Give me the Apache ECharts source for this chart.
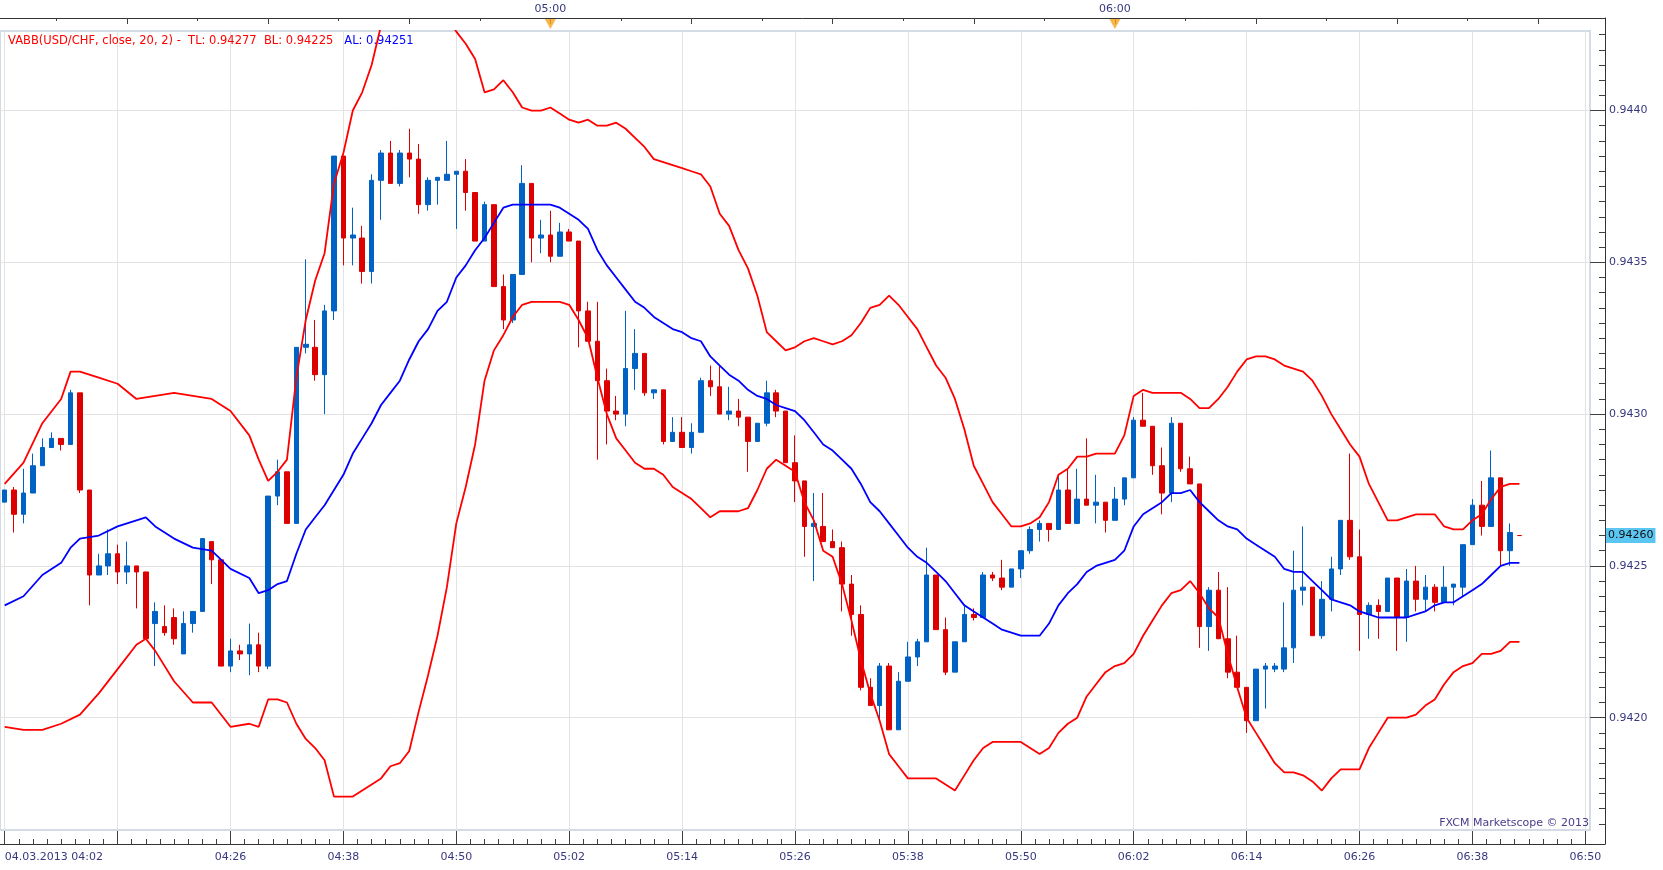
<!DOCTYPE html>
<html><head><meta charset="utf-8">
<script src="https://cdn.jsdelivr.net/npm/echarts@6/dist/echarts.min.js"></script>
<style>html,body{margin:0;padding:0;background:#fff}#c{width:1663px;height:870px}</style>
</head><body><div id="c"></div>
<script>
// ---------- data ----------
const sessionDate = '04.03.2013';
const firstTime = '04:02';
const lastTime = '06:50';
const categories = [];
(function(){
  const p = s => +s.slice(0,2)*60 + +s.slice(3);
  for (let t = p(firstTime); t <= p(lastTime); t++) {
    categories.push(String(Math.floor(t/60)).padStart(2,'0') + ':' + String(t%60).padStart(2,'0'));
  }
})();

const opens = [
0.94271,0.94275,0.94267,0.94274,0.94283,0.94289,0.94292,0.94290,0.94307,0.94275,
0.94247,0.94250,0.94254,0.94248,0.94250,0.94248,0.94231,0.94230,0.94233,0.94221,
0.94231,0.94235,0.94258,0.94252,0.94217,0.94222,0.94221,0.94224,0.94217,0.94273,
0.94281,0.94264,0.94322,0.94322,0.94313,0.94334,0.94385,0.94358,0.94358,0.94347,
0.94377,0.94386,0.94376,0.94386,0.94384,0.94369,0.94377,0.94377,0.94379,0.94380,
0.94373,0.94357,0.94369,0.94342,0.94331,0.94346,0.94376,0.94358,0.94359,0.94352,
0.94360,0.94357,0.94334,0.94324,0.94311,0.94301,0.94300,0.94315,0.94320,0.94307,
0.94308,0.94291,0.94294,0.94289,0.94294,0.94311,0.94309,0.94300,0.94301,0.94299,
0.94291,0.94297,0.94307,0.94301,0.94284,0.94278,0.94263,0.94263,0.94258,0.94256,
0.94244,0.94234,0.94210,0.94204,0.94217,0.94196,0.94212,0.94220,0.94225,0.94247,
0.94229,0.94215,0.94225,0.94234,0.94233,0.94247,0.94246,0.94243,0.94249,0.94255,
0.94262,0.94264,0.94262,0.94275,0.94264,0.94272,0.94270,0.94271,0.94265,0.94272,
0.94279,0.94298,0.94296,0.94283,0.94274,0.94297,0.94282,0.94277,0.94230,0.94242,
0.94226,0.94215,0.94210,0.94199,0.94216,0.94216,0.94216,0.94223,0.94242,0.94243,
0.94227,0.94239,0.94249,0.94265,0.94253,0.94234,0.94237,0.94235,0.94246,0.94233,
0.94245,0.94239,0.94243,0.94238,0.94243,0.94243,0.94257,0.94270,0.94263,0.94279,
0.94255,0.94260];

const highs = [
0.94275,0.94276,0.94282,0.94287,0.94292,0.94294,0.94292,0.94308,0.94307,0.94275,
0.94254,0.94262,0.94257,0.94258,0.94250,0.94248,0.94238,0.94237,0.94236,0.94235,
0.94235,0.94259,0.94258,0.94252,0.94226,0.94224,0.94231,0.94228,0.94273,0.94285,
0.94281,0.94322,0.94351,0.94331,0.94336,0.94385,0.94385,0.94368,0.94362,0.94379,
0.94387,0.94390,0.94387,0.94394,0.94389,0.94378,0.94378,0.94390,0.94380,0.94384,
0.94373,0.94370,0.94369,0.94346,0.94346,0.94382,0.94376,0.94364,0.94367,0.94363,
0.94361,0.94357,0.94337,0.94337,0.94315,0.94306,0.94334,0.94328,0.94320,0.94308,
0.94308,0.94299,0.94299,0.94297,0.94312,0.94316,0.94316,0.94309,0.94305,0.94299,
0.94297,0.94311,0.94308,0.94301,0.94293,0.94278,0.94274,0.94274,0.94262,0.94258,
0.94247,0.94237,0.94213,0.94218,0.94218,0.94215,0.94225,0.94226,0.94256,0.94247,
0.94233,0.94225,0.94237,0.94236,0.94248,0.94248,0.94252,0.94249,0.94255,0.94263,
0.94265,0.94264,0.94280,0.94282,0.94282,0.94292,0.94280,0.94271,0.94276,0.94279,
0.94299,0.94307,0.94296,0.94289,0.94299,0.94297,0.94286,0.94277,0.94243,0.94248,
0.94243,0.94227,0.94210,0.94216,0.94218,0.94218,0.94238,0.94255,0.94263,0.94243,
0.94245,0.94253,0.94265,0.94287,0.94262,0.94238,0.94239,0.94246,0.94246,0.94249,
0.94250,0.94247,0.94244,0.94250,0.94244,0.94257,0.94272,0.94278,0.94288,0.94279,
0.94264,0.94260];

const lows = [
0.94271,0.94261,0.94264,0.94274,0.94283,0.94289,0.94288,0.94290,0.94274,0.94237,
0.94247,0.94247,0.94244,0.94244,0.94236,0.94226,0.94217,0.94227,0.94224,0.94221,
0.94228,0.94235,0.94244,0.94217,0.94215,0.94219,0.94214,0.94215,0.94216,0.94270,
0.94264,0.94264,0.94320,0.94311,0.94300,0.94331,0.94349,0.94349,0.94343,0.94343,
0.94364,0.94376,0.94375,0.94378,0.94366,0.94367,0.94369,0.94377,0.94361,0.94367,
0.94357,0.94357,0.94342,0.94328,0.94330,0.94346,0.94350,0.94353,0.94350,0.94352,
0.94357,0.94322,0.94324,0.94285,0.94290,0.94298,0.94296,0.94308,0.94306,0.94305,
0.94290,0.94291,0.94289,0.94287,0.94294,0.94306,0.94300,0.94298,0.94296,0.94281,
0.94291,0.94296,0.94299,0.94284,0.94271,0.94253,0.94245,0.94258,0.94256,0.94235,
0.94227,0.94209,0.94204,0.94199,0.94196,0.94196,0.94212,0.94217,0.94225,0.94229,
0.94214,0.94215,0.94225,0.94232,0.94233,0.94245,0.94242,0.94243,0.94246,0.94254,
0.94258,0.94258,0.94262,0.94264,0.94264,0.94270,0.94264,0.94261,0.94265,0.94270,
0.94279,0.94296,0.94280,0.94267,0.94271,0.94281,0.94277,0.94223,0.94222,0.94226,
0.94213,0.94210,0.94195,0.94199,0.94203,0.94215,0.94215,0.94218,0.94237,0.94227,
0.94226,0.94235,0.94247,0.94252,0.94222,0.94226,0.94226,0.94235,0.94222,0.94225,
0.94235,0.94235,0.94235,0.94238,0.94237,0.94240,0.94257,0.94260,0.94263,0.94250,
0.94250,0.94260];

const closes = [
0.94275,0.94267,0.94274,0.94283,0.94289,0.94292,0.94290,0.94307,0.94275,0.94247,
0.94250,0.94254,0.94248,0.94250,0.94248,0.94226,0.94235,0.94228,0.94226,0.94231,
0.94235,0.94259,0.94252,0.94217,0.94222,0.94221,0.94224,0.94217,0.94273,0.94281,
0.94264,0.94322,0.94323,0.94313,0.94334,0.94385,0.94358,0.94359,0.94347,0.94377,
0.94386,0.94376,0.94386,0.94384,0.94369,0.94377,0.94378,0.94379,0.94380,0.94373,
0.94357,0.94369,0.94342,0.94331,0.94346,0.94376,0.94358,0.94359,0.94352,0.94360,
0.94357,0.94334,0.94324,0.94311,0.94301,0.94300,0.94315,0.94320,0.94307,0.94308,
0.94291,0.94294,0.94289,0.94294,0.94311,0.94309,0.94300,0.94301,0.94299,0.94291,
0.94297,0.94307,0.94301,0.94284,0.94278,0.94263,0.94264,0.94258,0.94256,0.94244,
0.94234,0.94210,0.94204,0.94217,0.94196,0.94212,0.94220,0.94225,0.94247,0.94229,
0.94215,0.94225,0.94234,0.94233,0.94247,0.94246,0.94243,0.94249,0.94255,0.94262,
0.94264,0.94262,0.94275,0.94264,0.94272,0.94270,0.94271,0.94265,0.94272,0.94279,
0.94298,0.94296,0.94283,0.94274,0.94297,0.94282,0.94277,0.94230,0.94242,0.94226,
0.94215,0.94210,0.94199,0.94216,0.94217,0.94217,0.94223,0.94242,0.94243,0.94227,
0.94239,0.94249,0.94265,0.94253,0.94234,0.94237,0.94235,0.94246,0.94233,0.94245,
0.94239,0.94243,0.94238,0.94243,0.94244,0.94257,0.94270,0.94263,0.94279,0.94255,
0.94261,0.94260];

const upperBand = [
0.94277,null,0.94284,null,0.94297,null,0.94305,0.94314,0.94314,null,
0.94312,null,0.94310,null,0.94305,null,0.94306,null,0.94307,null,
0.94306,null,0.94305,null,0.94301,null,0.94293,0.94285,0.94278,0.94281,
0.94285,0.94312,0.94331,0.94344,0.94353,0.94376,0.94386,0.94400,0.94406,0.94415,
0.94428,0.94436,0.94443,0.94446,0.94445,0.94442,0.94437,0.94431,0.94426,0.94422,
0.94417,0.94406,0.94407,0.94410,0.94406,0.94401,0.94400,0.94400,0.94401,0.94399,
0.94397,0.94396,0.94397,0.94395,0.94395,0.94396,0.94394,0.94391,0.94388,0.94384,
0.94383,0.94382,0.94381,0.94380,0.94379,0.94375,0.94366,0.94362,0.94354,0.94348,
0.94339,0.94327,0.94324,0.94321,0.94322,0.94324,0.94325,0.94324,0.94323,0.94324,
0.94326,0.94330,0.94335,0.94336,0.94339,0.94336,0.94332,0.94328,0.94322,0.94316,
0.94312,0.94305,0.94295,0.94283,0.94277,0.94271,0.94267,0.94263,0.94263,0.94264,
0.94266,0.94271,0.94280,0.94282,0.94286,0.94286,0.94287,0.94287,0.94287,0.94293,
0.94306,0.94308,0.94307,0.94307,0.94307,0.94307,0.94305,0.94302,0.94302,0.94305,
0.94309,0.94314,0.94318,0.94319,0.94319,0.94318,0.94316,0.94315,0.94314,0.94311,
0.94306,0.94300,0.94295,0.94290,0.94286,0.94277,0.94271,0.94265,0.94265,0.94266,
0.94267,0.94267,0.94267,0.94263,0.94262,0.94262,0.94265,0.94267,0.94272,0.94276,
0.94277,0.94277];

const middleBand = [
0.94237,null,0.94240,null,0.94247,null,0.94251,0.94256,0.94259,null,
0.94260,null,0.94263,null,0.94265,0.94266,0.94263,null,0.94259,null,
0.94256,null,0.94255,null,0.94249,null,0.94246,0.94241,0.94242,0.94244,
0.94245,0.94254,0.94262,0.94266,0.94270,0.94275,0.94280,0.94287,0.94292,0.94297,
0.94303,0.94307,0.94311,0.94318,0.94324,0.94328,0.94334,0.94337,0.94345,0.94349,
0.94354,0.94358,0.94363,0.94368,0.94369,0.94369,0.94369,0.94369,0.94369,0.94368,
0.94366,0.94364,0.94361,0.94354,0.94349,0.94345,0.94341,0.94337,0.94335,0.94332,
0.94330,0.94328,0.94327,0.94325,0.94324,0.94319,0.94316,0.94313,0.94311,0.94308,
0.94306,0.94305,0.94303,0.94302,0.94301,0.94298,0.94294,0.94290,0.94288,0.94285,
0.94282,0.94277,0.94271,0.94268,0.94264,0.94260,0.94256,0.94253,0.94251,0.94248,
0.94245,0.94241,0.94237,0.94235,0.94233,0.94231,0.94229,0.94228,0.94227,0.94227,
0.94227,0.94231,0.94237,0.94241,0.94244,0.94248,0.94250,0.94251,0.94252,0.94255,
0.94263,0.94267,0.94269,0.94271,0.94274,0.94274,0.94275,0.94271,0.94268,0.94265,
0.94263,0.94262,0.94259,0.94257,0.94255,0.94253,0.94249,0.94248,0.94248,0.94245,
0.94242,0.94239,0.94238,0.94237,0.94235,0.94234,0.94233,0.94233,0.94233,0.94233,
0.94234,0.94235,0.94237,0.94238,0.94238,0.94240,0.94242,0.94244,0.94247,0.94250,
0.94251,0.94251];

const lowerBand = [
0.94197,null,0.94196,null,0.94196,null,0.94198,null,0.94201,null,
0.94208,null,0.94216,null,0.94224,0.94226,0.94222,null,0.94212,null,
0.94205,null,0.94205,null,0.94197,null,0.94198,0.94197,0.94206,0.94206,
0.94205,0.94198,0.94193,0.94190,0.94186,0.94174,0.94174,0.94174,0.94176,0.94178,
0.94180,0.94184,0.94185,0.94189,0.94202,0.94214,0.94227,0.94243,0.94264,0.94276,
0.94290,0.94311,0.94321,0.94326,0.94332,0.94336,0.94337,0.94337,0.94337,0.94337,
0.94336,0.94331,0.94325,0.94312,0.94300,0.94292,0.94288,0.94284,0.94282,0.94282,
0.94280,0.94276,0.94274,0.94272,0.94269,0.94266,0.94268,0.94268,0.94268,0.94269,
0.94275,0.94282,0.94285,0.94283,0.94281,0.94271,0.94265,0.94255,0.94253,0.94244,
0.94232,0.94219,0.94208,0.94199,0.94188,0.94184,0.94180,0.94180,0.94180,0.94180,
0.94178,0.94176,0.94181,0.94186,0.94190,0.94192,0.94192,0.94192,0.94192,0.94190,
0.94188,0.94190,0.94195,0.94198,0.94200,0.94207,0.94211,0.94215,0.94217,0.94218,
0.94221,0.94227,0.94232,0.94237,0.94241,0.94242,0.94245,0.94241,0.94236,0.94233,
0.94221,0.94210,0.94200,0.94195,0.94190,0.94185,0.94182,0.94182,0.94181,0.94179,
0.94176,0.94180,0.94183,0.94183,0.94183,0.94190,0.94195,0.94200,0.94200,0.94200,
0.94201,0.94204,0.94206,0.94211,0.94215,0.94217,0.94218,0.94221,0.94221,0.94222,
0.94225,0.94225];

const priceTicks = [0.9420, 0.9425, 0.9430, 0.9435, 0.9440];
const timeLabels = ['04:26','04:38','04:50','05:02','05:14','05:26','05:38','05:50','06:02','06:14','06:26','06:38','06:50'];
const gridTimes = ['04:02','04:14','04:26','04:38','04:50','05:02','05:14','05:26','05:38','05:50','06:02','06:14','06:26','06:38','06:50'];
const hourLabels = ['05:00','06:00'];

// ---------- layout helpers ----------
const W = 1663, H = 870;
const G = {left: 0, right: 73, top: 31, bottom: 40};
const yMin = 0.94163, yMax = 0.944262;
const nCat = categories.length;
const bandPx = (W - G.left - G.right) / nCat;
const xMin = -0.5, xMax = nCat - 0.5;
const frameRight = 58;
const frameXMax = xMin + (W - G.left - frameRight) / bandPx;
const idx = t => categories.indexOf(t);
const minuteOf = t => +t.slice(0,2)*60 + +t.slice(3);
const m0 = minuteOf(categories[0]);

const minorX = []; for (let v = 0; v <= xMax; v += 1.5) minorX.push(v);
const topShort = [], topLong = [];
for (let k = 0; k < 40; k++) {
  const v = (4*60 + k*7.5) - m0;
  if (v < xMin || v > xMax) continue;
  (k % 2 === 0 ? topLong : topShort).push(v);
}
const minorY = [];
for (let k = Math.ceil(yMin/0.00005); k*0.00005 <= yMax; k++) minorY.push(+(k*0.00005).toFixed(5));

const last = closes.length - 1;
const axisFont = 'DejaVu Sans';
const labelColor = '#383880';
const tickColor = '#404040';

const candleData = opens.map((o, i) => [o, closes[i], lows[i], highs[i]]);

const chart = echarts.init(document.getElementById('c'), null, {renderer: 'canvas'});
chart.setOption({
  animation: false,
  backgroundColor: '#ffffff',
  title: [{
    left: 8, top: 35, padding: 0, z: 1,
    text: '{r|VABB(USD/CHF, close, 20, 2) -  TL: ' + upperBand[last].toFixed(5) + '  BL: ' + lowerBand[last].toFixed(5) + '}   {b|AL: ' + middleBand[last].toFixed(5) + '}',
    textStyle: {fontWeight: 'normal', fontSize: 11.5, fontFamily: axisFont, rich: {
      r: {color: '#ff0000', fontSize: 11.5, fontWeight: 'normal', fontFamily: axisFont},
      b: {color: '#0000ff', fontSize: 11.5, fontWeight: 'normal', fontFamily: axisFont}
    }}
  }, {
    right: 74, top: 818, padding: 0, z: 1,
    text: 'FXCM Marketscope \u00a9 2013',
    textStyle: {color: '#4b3b8b', fontSize: 11, fontWeight: 'normal', fontFamily: axisFont}
  }],
  grid: [
    {left: G.left, right: G.right, top: G.top, bottom: G.bottom, show: true, borderColor: '#d3dbe5', borderWidth: 2, backgroundColor: '#ffffff'},
    {left: 0, right: frameRight, top: 18, bottom: 26, show: false}
  ],
  xAxis: [
    {type: 'category', gridIndex: 0, data: categories, boundaryGap: true, show: false},
    {type: 'value', gridIndex: 0, min: xMin, max: xMax, position: 'bottom', offset: 14,
      axisLine: {show: false, onZero: false},
      axisTick: {show: true, inside: true, length: 13, customValues: gridTimes.map(idx), lineStyle: {color: tickColor}},
      axisLabel: {show: true, customValues: timeLabels.map(idx), formatter: v => categories[Math.round(v)], margin: 8, color: labelColor, fontSize: 11, fontFamily: axisFont, hideOverlap: false},
      splitLine: {show: true, lineStyle: {color: '#e3e3e3', width: 1}}},
    {type: 'value', gridIndex: 0, min: xMin, max: xMax, position: 'bottom', offset: 14,
      axisLine: {show: false, onZero: false},
      axisTick: {show: true, inside: true, length: 5, customValues: minorX, lineStyle: {color: tickColor}},
      axisLabel: {show: true, customValues: [0], formatter: v => sessionDate + ' ' + categories[Math.round(v)], align: 'left', margin: 8, color: labelColor, fontSize: 11, fontFamily: axisFont},
      splitLine: {show: false}},
    {type: 'value', gridIndex: 0, min: xMin, max: xMax, position: 'top', offset: 13,
      axisLine: {show: false, onZero: false},
      axisTick: {show: true, inside: true, length: 3, customValues: topShort, lineStyle: {color: tickColor}},
      axisLabel: {show: true, customValues: hourLabels.map(idx), formatter: v => categories[Math.round(v)], margin: 3, color: labelColor, fontSize: 11, fontFamily: axisFont},
      splitLine: {show: false}},
    {type: 'value', gridIndex: 0, min: xMin, max: xMax, position: 'top', offset: 13,
      axisLine: {show: false, onZero: false},
      axisTick: {show: true, inside: true, length: 6, customValues: topLong, lineStyle: {color: tickColor}},
      axisLabel: {show: false}, splitLine: {show: false}},
    {type: 'value', gridIndex: 1, min: 0, max: 1, position: 'bottom',
      axisLine: {show: true, onZero: false, lineStyle: {color: '#333333'}},
      axisTick: {show: false}, axisLabel: {show: false}, splitLine: {show: false}},
    {type: 'value', gridIndex: 1, min: xMin, max: frameXMax, position: 'top',
      axisLine: {show: true, onZero: false, lineStyle: {color: '#333333'}},
      axisTick: {show: false}, axisLabel: {show: false}, splitLine: {show: false}}
  ],
  yAxis: [
    {type: 'value', gridIndex: 0, min: yMin, max: yMax, show: false, scale: true},
    {type: 'value', gridIndex: 0, min: yMin, max: yMax, position: 'right', offset: 15,
      axisLine: {show: false, onZero: false},
      axisTick: {show: true, inside: true, length: 15, customValues: priceTicks, lineStyle: {color: tickColor}},
      axisLabel: {show: true, customValues: priceTicks, formatter: v => v.toFixed(4), margin: 4, color: labelColor, fontSize: 11, fontFamily: axisFont},
      splitLine: {show: true, lineStyle: {color: '#e3e3e3', width: 1}}},
    {type: 'value', gridIndex: 0, min: yMin, max: yMax, position: 'right', offset: 15,
      axisLine: {show: false, onZero: false},
      axisTick: {show: true, inside: true, length: 6, customValues: minorY, lineStyle: {color: tickColor}},
      axisLabel: {show: false}, splitLine: {show: false}},
    {type: 'value', gridIndex: 0, min: yMin, max: yMax, position: 'right', offset: 15,
      axisLine: {show: false, onZero: false},
      axisTick: {show: false},
      axisLabel: {show: true, customValues: [closes[last]], formatter: v => v.toFixed(5), margin: 1, color: '#111111', fontSize: 11, fontFamily: axisFont, backgroundColor: '#5cc6f3', padding: [2, 2, 2, 2]},
      splitLine: {show: false}},
    {type: 'value', gridIndex: 1, min: 0, max: 1, position: 'right',
      axisLine: {show: true, onZero: false, lineStyle: {color: '#333333'}},
      axisTick: {show: false}, axisLabel: {show: false}, splitLine: {show: false}}
  ],
  series: [
    {type: 'candlestick', xAxisIndex: 0, yAxisIndex: 0, data: candleData, barWidth: 5, z: 3,
      itemStyle: {color: '#0062c4', color0: '#dd0000', borderColor: '#0062c4', borderColor0: '#dd0000', borderWidth: 1}},
    {type: 'line', name: 'TL', xAxisIndex: 0, yAxisIndex: 0, data: upperBand, connectNulls: true, symbol: 'none', z: 4,
      lineStyle: {color: '#ff0000', width: 1.8}},
    {type: 'line', name: 'AL', xAxisIndex: 0, yAxisIndex: 0, data: middleBand, connectNulls: true, symbol: 'none', z: 4,
      lineStyle: {color: '#0000ff', width: 1.8}},
    {type: 'line', name: 'BL', xAxisIndex: 0, yAxisIndex: 0, data: lowerBand, connectNulls: true, symbol: 'none', z: 4,
      lineStyle: {color: '#ff0000', width: 1.8}},
    {type: 'scatter', xAxisIndex: 6, yAxisIndex: 4, data: hourLabels.map(t => [idx(t), 1]), symbol: 'triangle', symbolRotate: 180,
      symbolSize: [11, 10], symbolOffset: [0, 6], clip: false, z: 5, itemStyle: {color: '#f5a21e'}, silent: true}
  ]
});
</script>
</body></html>
